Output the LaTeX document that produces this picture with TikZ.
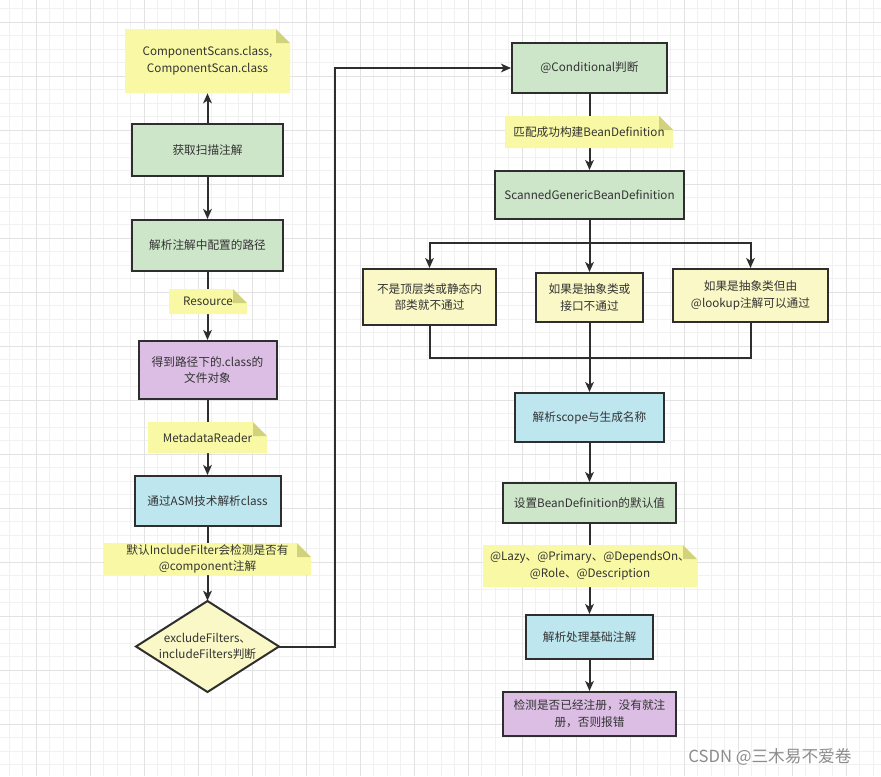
\documentclass[tikz,border=0pt]{standalone}
\usepackage{fontspec}
\setmainfont{Noto Sans CJK SC}
\usetikzlibrary{arrows.meta,shapes.geometric}
\definecolor{gridminor}{HTML}{F1F1F1}
\definecolor{gridmajor}{HTML}{E2E2E2}
\definecolor{linec}{HTML}{2E2E2E}
\definecolor{txt}{HTML}{333333}
\definecolor{boxgreen}{HTML}{CDE5C9}
\definecolor{boxpurple}{HTML}{DCBDE4}
\definecolor{boxblue}{HTML}{BDE6EF}
\definecolor{boxyellow}{HTML}{FAF8C6}
\definecolor{notefill}{HTML}{F9F9A5}
\definecolor{notefold}{HTML}{D2D27E}
\definecolor{wmark}{HTML}{8C8C8C}
\tikzset{
  base/.style={line width=1.5pt, draw=linec, text=txt, font=\fontsize{8.75}{12.5}\selectfont, align=center, inner sep=0pt},
  sz/.style 2 args={minimum width=#1*0.75pt, minimum height=#2*0.75pt},
  greenbox/.style={base, rectangle, fill=boxgreen},
  purplebox/.style={base, rectangle, fill=boxpurple},
  bluebox/.style={base, rectangle, fill=boxblue},
  yellowbox/.style={base, rectangle, fill=boxyellow},
  decisionshape/.style={line width=1.5pt, draw=linec, fill=boxyellow, line join=miter},
  notetext/.style={text=txt, font=\fontsize{8.75}{12.5}\selectfont, align=center, inner sep=0pt, draw=none, fill=none},
  conn/.style={line width=1.5pt, draw=linec},
  arr/.style={conn, -{Stealth[length=7.5pt, width=6.5pt, inset=2pt]}},
}
\newcommand\notebox[6]{%
  \fill[notefill] ({#2-#4/2},{#3-#5/2}) -- ({#2+#4/2-14},{#3-#5/2}) -- ({#2+#4/2},{#3-#5/2+14}) -- ({#2+#4/2},{#3+#5/2}) -- ({#2-#4/2},{#3+#5/2}) -- cycle;
  \fill[notefold] ({#2+#4/2-14},{#3-#5/2}) -- ({#2+#4/2-14},{#3-#5/2+14}) -- ({#2+#4/2},{#3-#5/2+14}) -- cycle;
  \node[notetext, sz={#4}{#5}] (#1) at (#2,#3) {#6};
}
\begin{document}
\begin{tikzpicture}[x=0.75pt, y=-0.75pt]
\useasboundingbox (0,0) rectangle (881,776);
\fill[white] (0,0) rectangle (881,776);
% grid
\foreach \i in {0,...,64} { \draw[gridminor, line width=0.75pt] ({9+13.5*\i},0) -- ({9+13.5*\i},776); }
\foreach \i in {0,...,56} { \draw[gridminor, line width=0.75pt] (0,{8.5+13.5*\i}) -- (881,{8.5+13.5*\i}); }
\foreach \i in {0,...,15} { \draw[gridmajor, line width=0.75pt] ({36+54*\i},0) -- ({36+54*\i},776); }
\foreach \i in {0,...,13} { \draw[gridmajor, line width=0.75pt] (0,{22+54.05*\i}) -- (881,{22+54.05*\i}); }

% left column boxes
\node[greenbox, sz={151}{52}] (b1) at (207.5,150) {获取扫描注解};
\node[greenbox, sz={151}{51}] (b2) at (207.5,245.5) {解析注解中配置的路径};
\node[purplebox, sz={138}{58}] (b3) at (207.5,370) {得到路径下的.class的\\文件对象};
\node[bluebox, sz={146}{50}] (b4) at (207.5,501) {通过ASM技术解析class};
\filldraw[decisionshape] (207.5,601) -- (279,646.5) -- (207.5,692) -- (136,646.5) -- cycle;
\node[notetext, sz={143}{91}] (dia) at (207.5,646.5) {excludeFilters、\\includeFilters判断};

% right column boxes
\node[greenbox, sz={155}{50}] (cond) at (589.5,68) {@Conditional判断};
\node[greenbox, sz={189}{48}] (scanned) at (589.5,195) {ScannedGenericBeanDefinition};
\node[yellowbox, sz={133}{56}] (left) at (429.5,297) {不是顶层类或静态内\\部类就不通过};
\node[yellowbox, sz={107}{49}] (mid) at (589.5,297.5) {如果是抽象类或\\接口不通过};
\node[yellowbox, sz={155}{53}] (right) at (750.5,295.5) {如果是抽象类但由\\@lookup注解可以通过};
\node[bluebox, sz={149}{49}] (scope) at (589.5,417.5) {解析scope与生成名称};
\node[greenbox, sz={173}{40}] (dflt) at (589.5,503) {设置BeanDefinition的默认值};
\node[bluebox, sz={127}{44}] (basic) at (589.5,637) {解析处理基础注解};
\node[purplebox, sz={173}{44}] (check) at (589.5,714) {检测是否已经注册，没有就注\\册，否则报错};

\coordinate (turn) at (335,68);
\coordinate (split) at (589.5,243);
\coordinate (merge) at (589.5,358);

% connectors
\draw[arr] (b1.south) -- (b2.north);
\draw[arr] (b2.south) -- (b3.north);
\draw[arr] (b3.south) -- (b4.north);
\draw[arr] (b4.south) -- (dia.north);
\draw[arr] (dia.east) -| (turn) -- (cond.west);
\draw[arr] (cond.south) -- (scanned.north);
\draw[arr] (scanned.south) -- (mid.north);
\draw[arr] (split) -| (left.north);
\draw[arr] (split) -| (right.north);
\draw[conn] (left.south) |- (merge);
\draw[conn] (right.south) |- (merge);
\draw[arr] (mid.south) -- (scope.north);
\draw[arr] (scope.south) -- (dflt.north);
\draw[arr] (dflt.south) -- (basic.north);
\draw[arr] (basic.south) -- (check.north);

% notes
\notebox{note1}{207.5}{61}{165}{64}{ComponentScans.class,\\ComponentScan.class}
\notebox{noteres}{208}{301.5}{78}{25}{Resource}
\notebox{notemeta}{207.5}{437.5}{119}{31}{MetadataReader}
\notebox{noteinc}{207.5}{559}{207}{32}{默认IncludeFilter会检测是否有\\@component注解}
\notebox{notematch}{589}{132}{168}{32}{匹配成功构建BeanDefinition}
\notebox{notelazy}{590}{566}{214}{42}{@Lazy、@Primary、@DependsOn、\\@Role、@Description}

\draw[arr] (b1.north) -- (note1.south);

\node[text=wmark, font=\fontsize{12.5}{14}\selectfont, inner sep=0pt] (wm) at (770,757) {CSDN @三木易不爱卷};
\end{tikzpicture}
\end{document}
